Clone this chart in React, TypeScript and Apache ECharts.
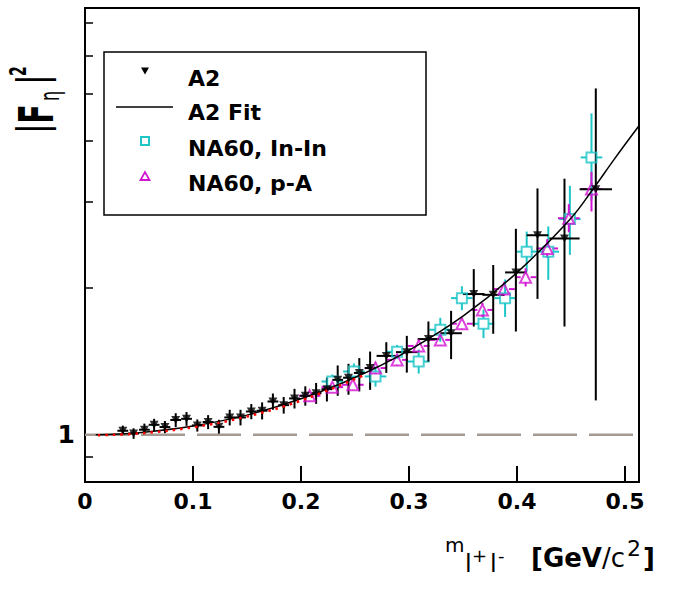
import React, { useEffect, useRef } from "react";
import * as echarts from "echarts";

// ---- data ----
const a2X = [0.035, 0.045, 0.055, 0.064, 0.074, 0.084, 0.094, 0.104, 0.114, 0.124, 0.134, 0.144, 0.154, 0.164, 0.174, 0.184, 0.194, 0.204, 0.214, 0.224, 0.234, 0.244, 0.254, 0.264, 0.279, 0.298, 0.318, 0.339, 0.360, 0.378, 0.399, 0.419, 0.444, 0.473];
const a2Y = [1.019, 1.006, 1.024, 1.048, 1.037, 1.072, 1.078, 1.045, 1.062, 1.038, 1.085, 1.085, 1.116, 1.120, 1.170, 1.150, 1.187, 1.202, 1.217, 1.240, 1.296, 1.309, 1.339, 1.370, 1.451, 1.477, 1.571, 1.615, 1.943, 1.936, 2.152, 2.565, 2.526, 3.187];
const a2XErr = [0.005, 0.005, 0.005, 0.005, 0.005, 0.005, 0.005, 0.005, 0.005, 0.005, 0.005, 0.005, 0.005, 0.005, 0.005, 0.005, 0.005, 0.005, 0.005, 0.005, 0.005, 0.005, 0.005, 0.005, 0.009, 0.01, 0.01, 0.01, 0.01, 0.01, 0.01, 0.01, 0.014, 0.015];
const a2YLow = [0.994, 0.981, 0.994, 1.018, 1.007, 1.037, 1.043, 1.015, 1.027, 1.003, 1.045, 1.045, 1.076, 1.075, 1.125, 1.105, 1.132, 1.147, 1.157, 1.170, 1.202, 1.208, 1.227, 1.236, 1.339, 1.341, 1.413, 1.429, 1.667, 1.611, 1.628, 1.899, 1.667, 1.176];
const a2YHigh = [1.044, 1.031, 1.054, 1.078, 1.067, 1.107, 1.113, 1.075, 1.097, 1.073, 1.125, 1.125, 1.156, 1.165, 1.215, 1.195, 1.242, 1.257, 1.277, 1.310, 1.387, 1.398, 1.436, 1.481, 1.548, 1.595, 1.707, 1.795, 2.186, 2.229, 2.644, 3.200, 3.350, 5.130];

const inX = [0.229, 0.249, 0.269, 0.289, 0.309, 0.329, 0.349, 0.369, 0.389, 0.409, 0.429, 0.449, 0.469];
const inY = [1.286, 1.348, 1.317, 1.479, 1.413, 1.642, 1.906, 1.689, 1.906, 2.374, 2.374, 2.768, 3.704];
const inXErr = [0.01, 0.01, 0.01, 0.01, 0.01, 0.01, 0.01, 0.01, 0.01, 0.01, 0.01, 0.01, 0.01];
const inYLow = [1.244, 1.297, 1.255, 1.431, 1.335, 1.551, 1.800, 1.578, 1.744, 2.160, 2.078, 2.338, 3.020];
const inYHigh = [1.329, 1.400, 1.381, 1.528, 1.495, 1.737, 2.016, 1.805, 2.082, 2.610, 2.674, 3.240, 4.560];

const paX = [0.208, 0.229, 0.248, 0.269, 0.289, 0.309, 0.329, 0.349, 0.368, 0.388, 0.408, 0.428, 0.448, 0.469];
const paY = [1.202, 1.252, 1.266, 1.370, 1.424, 1.521, 1.565, 1.689, 1.803, 1.989, 2.104, 2.410, 2.780, 3.190];
const paXErr = [0.01, 0.01, 0.01, 0.01, 0.01, 0.01, 0.01, 0.01, 0.01, 0.01, 0.01, 0.01, 0.01, 0.01];
const paYLow = [1.173, 1.222, 1.236, 1.332, 1.384, 1.479, 1.528, 1.642, 1.744, 1.925, 2.014, 2.307, 2.601, 2.870];
const paYHigh = [1.231, 1.282, 1.296, 1.408, 1.464, 1.564, 1.602, 1.736, 1.863, 2.055, 2.195, 2.518, 2.971, 3.460];

const fitX = [0.01, 0.05, 0.1, 0.15, 0.2, 0.25, 0.3, 0.35, 0.4, 0.45, 0.47, 0.49, 0.513];
const fitY = [1.0, 1.01, 1.042, 1.097, 1.185, 1.31, 1.49, 1.75, 2.15, 2.78, 3.18, 3.67, 4.3];

const redX = [0.012, 0.05, 0.1, 0.15, 0.2, 0.26];
const redY = [0.998, 1.006, 1.036, 1.09, 1.175, 1.33];

const refX = [0, 0.513];
const refY = [1, 1];

const xTicks = [0, 0.1, 0.2, 0.3, 0.4, 0.5];
const yTickValues = [0.9, 1, 2, 3, 4, 5, 6, 7];
const yLabelValues = [1];

const legendNames = ["A2", "A2 Fit", "NA60, In-In", "NA60, p-A"];

const X_MIN = 0;
const X_MAX = 0.513;
const Y_MIN = 0.8;
const Y_MAX = 7.5;

const CYAN = "#1ec6c8";
const MAGENTA = "#d214d2";
const FONT = "DejaVu Sans";

function zip(xs: number[], ys: number[]) {
  return xs.map((x, i) => [x, ys[i]]);
}
function errRows(xs: number[], ys: number[], xe: number[], lo: number[], hi: number[]) {
  return xs.map((x, i) => [x, ys[i], xe[i], lo[i], hi[i]]);
}

function errorSeries(name: string, data: number[][], color: string, gap: number) {
  return {
    name,
    type: "custom",
    data,
    encode: { x: 0, y: 1 },
    silent: true,
    renderItem: (params: any, api: any) => {
      const x = api.value(0);
      const y = api.value(1);
      const xe = api.value(2);
      const lo = api.value(3);
      const hi = api.value(4);
      const c = api.coord([x, y]);
      const l = api.coord([x - xe, y]);
      const r = api.coord([x + xe, y]);
      const pl = api.coord([x, lo]);
      const ph = api.coord([x, hi]);
      const style = { stroke: color, lineWidth: 2 };
      const segs: number[][] = [];
      if (c[0] - gap > l[0]) segs.push([l[0], c[1], c[0] - gap, c[1]]);
      if (r[0] > c[0] + gap) segs.push([c[0] + gap, c[1], r[0], c[1]]);
      if (c[1] - gap > ph[1]) segs.push([c[0], ph[1], c[0], c[1] - gap]);
      if (pl[1] > c[1] + gap) segs.push([c[0], c[1] + gap, c[0], pl[1]]);
      return {
        type: "group",
        children: segs.map((s) => ({
          type: "line",
          shape: { x1: s[0], y1: s[1], x2: s[2], y2: s[3] },
          style,
        })),
      };
    },
  };
}

function txt(text: string, x: number, y: number, size: number, bold: boolean) {
  return {
    type: "text",
    x,
    y,
    style: {
      text,
      fill: "#000",
      fontSize: size,
      fontWeight: bold ? "bold" : "normal",
      fontFamily: FONT,
      align: "left",
      verticalAlign: "middle",
    },
  };
}

export default function App() {
  const ref = useRef<HTMLDivElement>(null);

  useEffect(() => {
    document.body.style.margin = "0";
    if (!ref.current) return;
    const chart = echarts.init(ref.current, undefined, { renderer: "svg" });

    const legendGraphic = {
      type: "group",
      z: 100,
      children: [
        {
          type: "rect",
          shape: { x: 104, y: 52, width: 322, height: 163 },
          style: { fill: "#fff", stroke: "#000", lineWidth: 1.5 },
        },
        {
          type: "polygon",
          shape: { points: [[141, 67.5], [149, 67.5], [145, 74.5]] },
          style: { fill: "#000" },
        },
        {
          type: "line",
          shape: { x1: 116, y1: 107, x2: 173, y2: 107 },
          style: { stroke: "#000", lineWidth: 1.5 },
        },
        {
          type: "rect",
          shape: { x: 141, y: 137, width: 8, height: 8 },
          style: { fill: "none", stroke: CYAN, lineWidth: 2 },
        },
        {
          type: "polygon",
          shape: { points: [[140.5, 180], [149.5, 180], [145, 172]] },
          style: { fill: "none", stroke: MAGENTA, lineWidth: 1.8 },
        },
        txt(legendNames[0], 188, 78.5, 22, true),
        txt(legendNames[1], 188, 112.5, 22, true),
        txt(legendNames[2], 188, 148.3, 22, true),
        txt(legendNames[3], 188, 183.2, 22, true),
      ],
    };

    const option: any = {
      animation: false,
      backgroundColor: "#fff",
      grid: {
        left: 85,
        right: 41,
        top: 8,
        bottom: 110,
        show: true,
        borderColor: "#000",
        borderWidth: 2,
        backgroundColor: "transparent",
      },
      xAxis: {
        type: "value",
        min: X_MIN,
        max: X_MAX,
        interval: 0.1,
        axisLine: { show: true, lineStyle: { color: "#000", width: 2 } },
        axisTick: {
          show: true,
          inside: true,
          length: 16,
          lineStyle: { color: "#000", width: 2 },
          customValues: xTicks,
        },
        axisLabel: {
          show: true,
          customValues: xTicks,
          margin: 8,
          color: "#000",
          fontFamily: FONT,
          fontWeight: "bold",
          fontSize: 22,
          formatter: (v: number) => (v === 0 ? "0" : v.toFixed(1)),
        },
        splitLine: { show: false },
      },
      yAxis: {
        type: "log",
        logBase: 10,
        min: Y_MIN,
        max: Y_MAX,
        axisLine: { show: true, lineStyle: { color: "#000", width: 2 } },
        axisTick: {
          show: true,
          inside: true,
          length: 8,
          lineStyle: { color: "#000", width: 1.5 },
          customValues: yTickValues,
        },
        axisLabel: {
          show: true,
          customValues: yLabelValues,
          margin: 10,
          color: "#000",
          fontFamily: FONT,
          fontWeight: "bold",
          fontSize: 25,
          formatter: (v: number) => String(Math.round(v)),
        },
        splitLine: { show: false },
      },
      series: [
        {
          name: "ref",
          type: "line",
          data: zip(refX, refY),
          symbol: "none",
          silent: true,
          lineStyle: { color: "#a39a92", width: 2.5, type: [44, 12] },
        },
        errorSeries("In-In err", errRows(inX, inY, inXErr, inYLow, inYHigh), CYAN, 5),
        {
          name: legendNames[2],
          type: "scatter",
          data: zip(inX, inY),
          symbol: "rect",
          symbolSize: 10,
          itemStyle: { color: "rgba(255,255,255,0)", borderColor: CYAN, borderWidth: 2 },
          silent: true,
        },
        errorSeries("p-A err", errRows(paX, paY, paXErr, paYLow, paYHigh), MAGENTA, 5),
        {
          name: legendNames[3],
          type: "scatter",
          data: zip(paX, paY),
          symbol: "triangle",
          symbolSize: 11,
          itemStyle: { color: "rgba(255,255,255,0)", borderColor: MAGENTA, borderWidth: 2 },
          silent: true,
        },
        errorSeries("A2 err", errRows(a2X, a2Y, a2XErr, a2YLow, a2YHigh), "#000", 0),
        {
          name: legendNames[0],
          type: "scatter",
          data: zip(a2X, a2Y),
          symbol: "triangle",
          symbolRotate: 180,
          symbolSize: [9, 8],
          itemStyle: { color: "#000" },
          silent: true,
        },
        {
          name: legendNames[1],
          type: "line",
          data: zip(fitX, fitY),
          smooth: 0.4,
          symbol: "none",
          silent: true,
          lineStyle: { color: "#000", width: 1.5 },
          itemStyle: { color: "#000" },
        },
        {
          name: "red fit",
          type: "line",
          data: zip(redX, redY),
          smooth: 0.4,
          symbol: "none",
          silent: true,
          lineStyle: { color: "#ff0000", width: 2.5, type: [2.5, 5] },
        },
      ],
      graphic: [
        legendGraphic,
        {
          type: "group",
          x: 53,
          y: 133,
          rotation: Math.PI / 2,
          scaleX: 1,
          scaleY: 1.7,
          children: [
            txt("|", 0, -12.1, 24, true),
            txt("F", 9.5, -9.7, 28, true),
            txt("η", 32, -2.2, 16, false),
            txt("|", 49, -12.1, 24, true),
            txt("2", 57, -20.3, 14, true),
          ],
        },
        txt("m", 445, 545.1, 20, false),
        txt("l", 465, 563.7, 24, false),
        txt("+", 472, 555.8, 18, false),
        txt("l", 490, 563.7, 24, false),
        txt("-", 498, 555.8, 18, false),
        txt("[GeV", 531, 558, 26, true),
        txt("/c", 602, 558, 26, false),
        txt("2", 627, 548.5, 22, false),
        txt("]", 643, 558, 26, true),
      ],
    };

    chart.setOption(option);
    return () => chart.dispose();
  }, []);

  return <div ref={ref} style={{ width: 680, height: 592 }} />;
}
